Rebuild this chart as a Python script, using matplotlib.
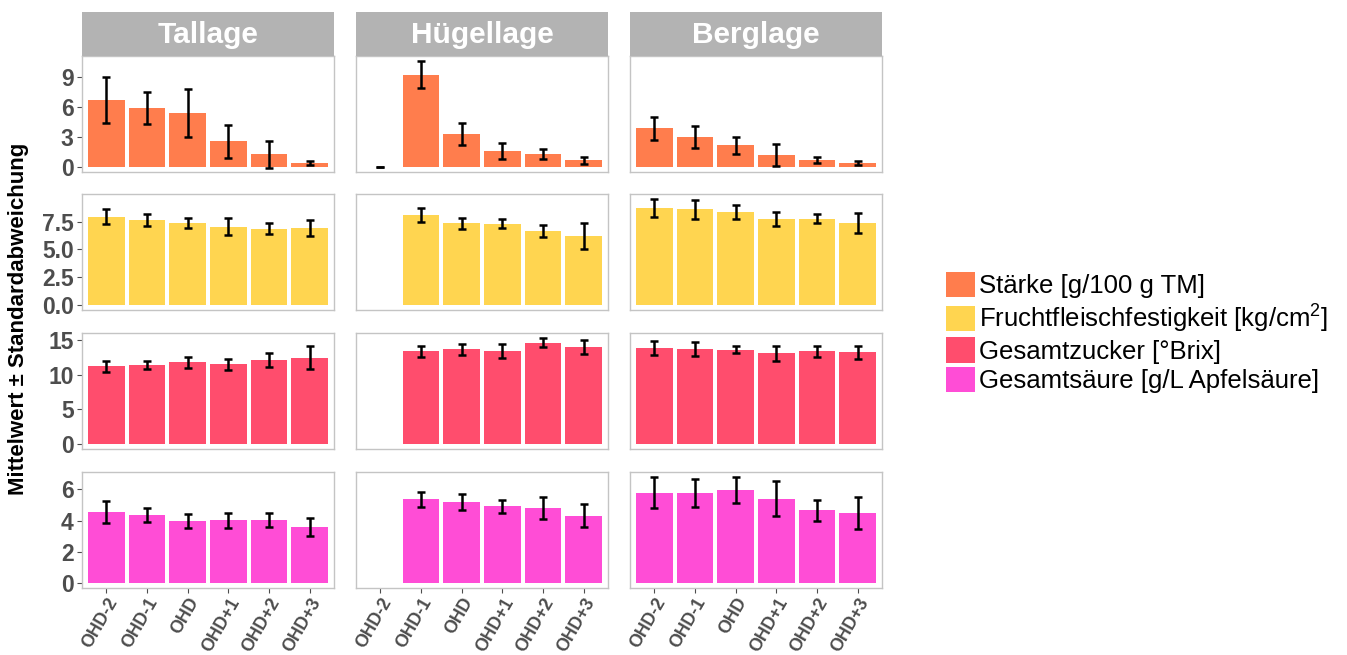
import numpy as np
import matplotlib
matplotlib.use("Agg")
import matplotlib.pyplot as plt
from matplotlib.patches import Patch

plt.rcParams["font.family"] = ["Liberation Sans", "DejaVu Sans"]
plt.rcParams["mathtext.fontset"] = "custom"
plt.rcParams["mathtext.rm"] = "Liberation Sans"

# Harvest dates relative to the optimal harvest date (OHD)
dates = ["OHD-2", "OHD-1", "OHD", "OHD+1", "OHD+2", "OHD+3"]
sites = ["Tallage", "Hügellage", "Berglage"]

variables = [
    "Stärke [g/100 g TM]",
    "Fruchtfleischfestigkeit [kg/cm$^{\\mathregular{2}}$]",
    "Gesamtzucker [°Brix]",
    "Gesamtsäure [g/L Apfelsäure]",
]
colors = ["#FF7D4D", "#FFD550", "#FF4D6D", "#FF4DD6"]

nan = np.nan

# Starch
starch_mean = {
    "Tallage":   [6.70, 5.90, 5.40, 2.55, 1.25, 0.35],
    "Hügellage": [0.00, 9.27, 3.30, 1.60, 1.30, 0.65],
    "Berglage":  [3.85, 3.00, 2.15, 1.20, 0.68, 0.38],
}
starch_sd = {
    "Tallage":   [2.33, 1.60, 2.45, 1.64, 1.35, 0.22],
    "Hügellage": [0.00, 1.35, 1.10, 0.83, 0.50, 0.37],
    "Berglage":  [1.20, 1.08, 0.85, 1.10, 0.33, 0.19],
}

# Flesh firmness
firm_mean = {
    "Tallage":   [7.95, 7.65, 7.38, 7.05, 6.85, 6.95],
    "Hügellage": [nan, 8.10, 7.35, 7.30, 6.65, 6.20],
    "Berglage":  [8.70, 8.62, 8.37, 7.72, 7.76, 7.35],
}
firm_sd = {
    "Tallage":   [0.70, 0.52, 0.42, 0.80, 0.50, 0.72],
    "Hügellage": [nan, 0.65, 0.50, 0.40, 0.55, 1.20],
    "Berglage":  [0.82, 0.85, 0.60, 0.64, 0.42, 0.90],
}

# Total sugar
sugar_mean = {
    "Tallage":   [11.25, 11.45, 11.80, 11.50, 12.20, 12.50],
    "Hügellage": [nan, 13.40, 13.70, 13.45, 14.65, 14.05],
    "Berglage":  [13.85, 13.70, 13.65, 13.10, 13.40, 13.30],
}
sugar_sd = {
    "Tallage":   [0.82, 0.60, 0.82, 0.82, 1.00, 1.68],
    "Hügellage": [nan, 0.82, 0.80, 0.96, 0.65, 1.03],
    "Berglage":  [1.00, 1.03, 0.48, 1.08, 0.77, 0.94],
}

# Total acidity
acid_mean = {
    "Tallage":   [4.55, 4.37, 4.00, 4.02, 4.05, 3.58],
    "Hügellage": [nan, 5.37, 5.17, 4.92, 4.80, 4.30],
    "Berglage":  [5.78, 5.78, 5.96, 5.40, 4.67, 4.50],
}
acid_sd = {
    "Tallage":   [0.68, 0.45, 0.45, 0.48, 0.45, 0.56],
    "Hügellage": [nan, 0.47, 0.52, 0.41, 0.69, 0.74],
    "Berglage":  [0.99, 0.92, 0.82, 1.12, 0.67, 1.02],
}

row_means = [starch_mean, firm_mean, sugar_mean, acid_mean]
row_sds = [starch_sd, firm_sd, sugar_sd, acid_sd]
row_ticks = [[0, 3, 6, 9], [0.0, 2.5, 5.0, 7.5], [0, 5, 10, 15], [0, 2, 4, 6]]
row_ticklabels = [["0", "3", "6", "9"], ["0.0", "2.5", "5.0", "7.5"],
                  ["0", "5", "10", "15"], ["0", "2", "4", "6"]]

W, H = 1347, 655
fig = plt.figure(figsize=(W / 100, H / 100), dpi=100)


def px_axes(x0, y0, w, h):
    return fig.add_axes([x0 / W, 1 - (y0 + h) / H, w / W, h / H])


col_x = [82, 356, 630]
panel_w = 252
row_y = [56, 194, 333, 472]
panel_h = 116
strip_top, strip_h = 12, 44
frame_col = "#C4C4C4"
tick_col = "#4D4D4D"

x = np.arange(1, len(dates) + 1)

for r in range(4):
    # shared y-range per row, with 5% padding like a free_y facet grid
    tops = []
    for s in sites:
        m = np.array(row_means[r][s], dtype=float)
        sd = np.array(row_sds[r][s], dtype=float)
        tops.append(np.nanmax(m + sd))
    ymax = max(tops)
    pad = 0.05 * ymax
    for c, s in enumerate(sites):
        ax = px_axes(col_x[c], row_y[r], panel_w, panel_h)
        m = np.array(row_means[r][s], dtype=float)
        sd = np.array(row_sds[r][s], dtype=float)
        ok = ~np.isnan(m)
        ax.bar(x[ok], m[ok], width=0.9, color=colors[r], edgecolor="none", zorder=2)
        lo, hi = m[ok] - sd[ok], m[ok] + sd[ok]
        ax.vlines(x[ok], lo, hi, color="black", lw=1.8, zorder=3)
        ax.hlines(np.concatenate([lo, hi]), np.tile(x[ok] - 0.1, 2),
                  np.tile(x[ok] + 0.1, 2), color="black", lw=1.8, zorder=3)
        ax.set_xlim(0.4, len(dates) + 0.6)
        ax.set_ylim(-pad, ymax + pad)
        for sp in ax.spines.values():
            sp.set_color(frame_col)
            sp.set_linewidth(1.0)
        ax.set_yticks(row_ticks[r])
        ax.set_xticks(x)
        ax.tick_params(axis="both", color=tick_col, length=3.5, width=0.8,
                       labelcolor=tick_col, pad=2.5)
        if c == 0:
            ax.set_yticklabels(row_ticklabels[r], fontsize=16.5, fontweight="bold")
        else:
            ax.tick_params(axis="y", length=0, labelleft=False)
        if r == 3:
            ax.tick_params(axis="x", pad=1.5)
            ax.set_xticklabels(dates, rotation=60, ha="right",
                               rotation_mode="anchor", fontsize=12.8,
                               fontweight="bold")
        else:
            ax.tick_params(axis="x", length=0, labelbottom=False)

# facet strips
for c, s in enumerate(sites):
    sax = px_axes(col_x[c], strip_top, panel_w, strip_h)
    sax.set_facecolor("#B3B3B3")
    for sp in sax.spines.values():
        sp.set_visible(False)
    sax.set_xticks([])
    sax.set_yticks([])
    sax.text(0.5, 0.48, s, ha="center", va="center", color="white",
             fontsize=21.5, fontweight="bold", transform=sax.transAxes)

fig.text(19 / W, 1 - 319 / H, "Mittelwert ± Standardabweichung", rotation=90,
         ha="center", va="center", fontsize=16, fontweight="bold")

handles = [Patch(facecolor=col, edgecolor="none") for col in colors]
fig.legend(handles, variables, loc="upper left",
           bbox_to_anchor=(946 / W, 1 - 272 / H), frameon=False,
           fontsize=18.5, handlelength=1.13, handleheight=1.13,
           handletextpad=0.17, labelspacing=0.12, borderpad=0,
           borderaxespad=0)

fig.savefig("out.png", dpi=100)
